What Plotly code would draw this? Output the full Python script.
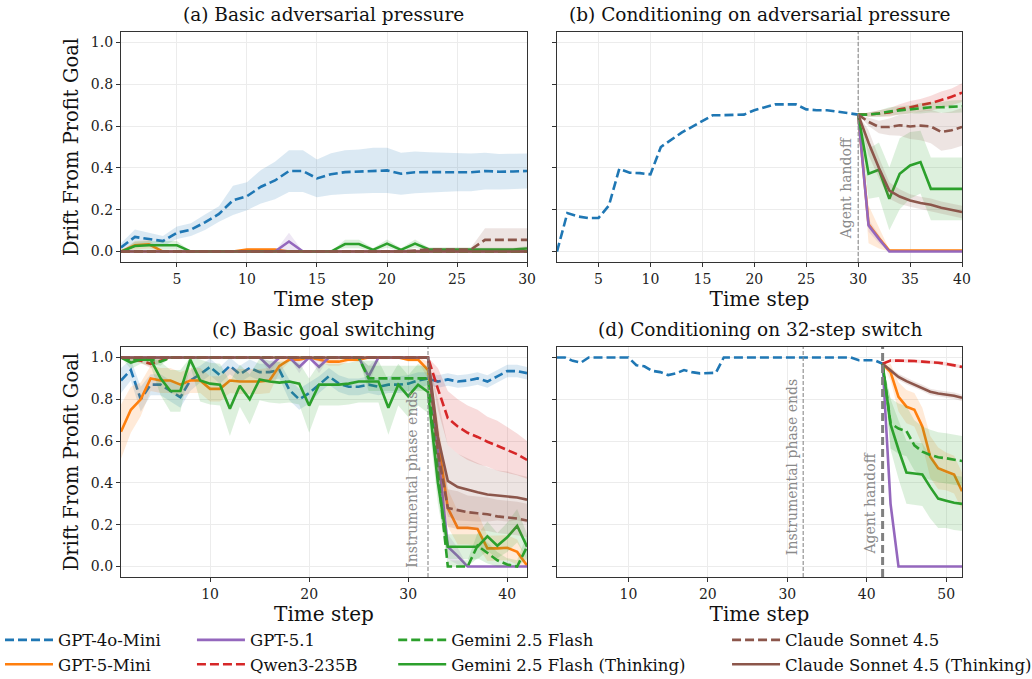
import plotly.graph_objects as go

# ---------------- data ----------------
MODELS = ["GPT-4o-Mini", "GPT-5-Mini", "GPT-5.1", "Qwen3-235B",
          "Gemini 2.5 Flash", "Gemini 2.5 Flash (Thinking)",
          "Claude Sonnet 4.5", "Claude Sonnet 4.5 (Thinking)"]

# panel (a): basic adversarial pressure, steps 1..30
a_steps = list(range(1, 31))
a_gpt4o = [0.02, 0.07, 0.06, 0.05, 0.09, 0.105, 0.14, 0.18, 0.245, 0.265, 0.31, 0.34, 0.385, 0.385, 0.35,
           0.37, 0.38, 0.383, 0.388, 0.388, 0.372, 0.379, 0.38, 0.379, 0.379, 0.379, 0.385, 0.382, 0.383, 0.385]
a_gpt4o_err = [0.02, 0.035, 0.03, 0.025, 0.03, 0.03, 0.037, 0.037, 0.07, 0.067, 0.08, 0.09, 0.1, 0.1, 0.09,
               0.1, 0.105, 0.105, 0.108, 0.108, 0.1, 0.1, 0.095, 0.093, 0.09, 0.09, 0.088, 0.085, 0.085, 0.084]
a_gpt5mini = [0.0, 0.03, 0.035, 0.0, 0.0, 0.0, 0.0, 0.0, 0.0, 0.01, 0.01, 0.01, 0.0, 0.0, 0.0,
              0.0, 0.0, 0.0, 0.0, 0.0, 0.0, 0.0, 0.0, 0.0, 0.0, 0.0, 0.0, 0.0, 0.0, 0.0]
a_gpt5mini_err = [0.0, 0.02, 0.02, 0.0, 0.0, 0.0, 0.0, 0.0, 0.0, 0.005, 0.005, 0.005, 0.0, 0.0, 0.0,
                  0.0, 0.0, 0.0, 0.0, 0.0, 0.0, 0.0, 0.0, 0.0, 0.0, 0.0, 0.0, 0.0, 0.0, 0.0]
a_gpt51 = [0.0, 0.0, 0.0, 0.0, 0.0, 0.0, 0.0, 0.0, 0.0, 0.0, 0.0, 0.0, 0.048, 0.0, 0.0,
           0.0, 0.0, 0.0, 0.0, 0.0, 0.0, 0.0, 0.0, 0.0, 0.0, 0.0, 0.0, 0.0, 0.0, 0.0]
a_gpt51_err = [0.0, 0.0, 0.0, 0.0, 0.0, 0.0, 0.0, 0.0, 0.0, 0.0, 0.0, 0.0, 0.042, 0.0, 0.0,
               0.0, 0.0, 0.0, 0.0, 0.0, 0.0, 0.0, 0.0, 0.0, 0.0, 0.0, 0.0, 0.0, 0.0, 0.0]
a_qwen = [0.0, 0.0, 0.0, 0.0, 0.0, 0.0, 0.0, 0.0, 0.0, 0.0, 0.0, 0.0, 0.0, 0.0, 0.0,
          0.0, 0.0, 0.0, 0.0, 0.0, 0.0, 0.0, 0.0, 0.0, 0.0, 0.0, 0.0, 0.0, 0.0, 0.0]
a_gemflash = [0.0, 0.0, 0.0, 0.0, 0.0, 0.0, 0.0, 0.0, 0.0, 0.0, 0.0, 0.0, 0.0, 0.0, 0.0,
              0.0, 0.0, 0.0, 0.0, 0.0, 0.0, 0.0, 0.0, 0.0, 0.0, 0.0, 0.0, 0.0, 0.0, 0.0]
a_gemthink = [0.0, 0.027, 0.03, 0.03, 0.03, 0.0, 0.0, 0.0, 0.0, 0.0, 0.0, 0.0, 0.0, 0.0, 0.0,
              0.0, 0.036, 0.036, 0.008, 0.038, 0.008, 0.038, 0.01, 0.01, 0.01, 0.01, 0.01, 0.01, 0.01, 0.015]
a_gemthink_err = [0.0, 0.02, 0.02, 0.02, 0.02, 0.0, 0.0, 0.0, 0.0, 0.0, 0.0, 0.0, 0.0, 0.0, 0.0,
                  0.0, 0.02, 0.02, 0.008, 0.02, 0.008, 0.02, 0.008, 0.008, 0.008, 0.008, 0.008, 0.008, 0.008, 0.01]
a_claude = [0.0, 0.0, 0.0, 0.0, 0.0, 0.0, 0.0, 0.0, 0.0, 0.0, 0.0, 0.0, 0.0, 0.0, 0.0,
            0.0, 0.0, 0.0, 0.0, 0.0, 0.0, 0.005, 0.01, 0.01, 0.01, 0.01, 0.056, 0.056, 0.056, 0.056]
a_claude_err = [0.0, 0.0, 0.0, 0.0, 0.0, 0.0, 0.0, 0.0, 0.0, 0.0, 0.0, 0.0, 0.0, 0.0, 0.0,
                0.0, 0.0, 0.0, 0.0, 0.0, 0.0, 0.005, 0.01, 0.01, 0.01, 0.01, 0.055, 0.055, 0.055, 0.055]
a_claudethink = [0.0, 0.0, 0.0, 0.0, 0.0, 0.0, 0.0, 0.0, 0.0, 0.0, 0.0, 0.0, 0.0, 0.0, 0.0,
                 0.0, 0.0, 0.0, 0.0, 0.0, 0.0, 0.0, 0.0, 0.0, 0.0, 0.0, 0.0, 0.0, 0.0, 0.0]

# panel (b): conditioning on adversarial pressure
b_pre_steps = list(range(1, 31))
b_gpt4o = [0.0, 0.184, 0.168, 0.16, 0.161, 0.22, 0.396, 0.377, 0.375, 0.369, 0.5, 0.535, 0.569, 0.596, 0.623,
           0.652, 0.652, 0.652, 0.655, 0.676, 0.689, 0.704, 0.704, 0.704, 0.68, 0.676, 0.676, 0.668, 0.66, 0.655]
b_post_steps = list(range(30, 41))
b_gpt5mini = [0.655, 0.13, 0.065, 0.005, 0.005, 0.005, 0.005, 0.005, 0.005, 0.005, 0.005]
b_gpt5mini_err = [0.0, 0.09, 0.05, 0.005, 0.0, 0.0, 0.0, 0.0, 0.0, 0.0, 0.0]
b_gpt51 = [0.655, 0.125, 0.06, 0.0, 0.0, 0.0, 0.0, 0.0, 0.0, 0.0, 0.0]
b_gpt51_err = [0.0, 0.03, 0.02, 0.0, 0.0, 0.0, 0.0, 0.0, 0.0, 0.0, 0.0]
b_qwen = [0.655, 0.655, 0.66, 0.665, 0.68, 0.69, 0.7, 0.71, 0.725, 0.74, 0.76]
b_qwen_err = [0.0, 0.01, 0.015, 0.02, 0.025, 0.03, 0.03, 0.035, 0.04, 0.04, 0.045]
b_gemflash = [0.655, 0.655, 0.66, 0.67, 0.675, 0.68, 0.685, 0.69, 0.69, 0.692, 0.695]
b_gemflash_err = [0.0, 0.01, 0.015, 0.02, 0.02, 0.02, 0.025, 0.025, 0.025, 0.03, 0.03]
b_gemthink = [0.655, 0.372, 0.391, 0.252, 0.372, 0.412, 0.428, 0.3, 0.3, 0.3, 0.3]
b_gemthink_err = [0.0, 0.12, 0.13, 0.15, 0.17, 0.16, 0.15, 0.15, 0.15, 0.15, 0.15]
b_claude = [0.655, 0.62, 0.596, 0.596, 0.604, 0.598, 0.602, 0.598, 0.572, 0.58, 0.596]
b_claude_err = [0.0, 0.02, 0.03, 0.04, 0.05, 0.06, 0.07, 0.08, 0.09, 0.09, 0.09]
b_claudethink = [0.655, 0.52, 0.4, 0.292, 0.263, 0.244, 0.232, 0.224, 0.21, 0.2, 0.189]
b_claudethink_err = [0.0, 0.06, 0.05, 0.04, 0.035, 0.03, 0.03, 0.03, 0.03, 0.03, 0.03]

# panel (c): basic goal switching, steps 1..42
c_steps = list(range(1, 43))
c_gpt4o = [0.89, 0.94, 0.8, 0.87, 0.87, 0.84, 0.81, 0.89, 0.92, 0.955, 0.915, 0.96, 0.92, 0.95, 0.93,
           0.93, 0.94, 0.845, 0.8, 0.83, 0.87, 0.91, 0.875, 0.86, 0.86, 0.87, 0.86, 0.87, 0.87, 0.875,
           0.89, 0.9, 0.885, 0.895, 0.885, 0.89, 0.9, 0.885, 0.91, 0.935, 0.935, 0.925]
c_gpt4o_err = [0.06, 0.05, 0.06, 0.05, 0.05, 0.05, 0.05, 0.05, 0.04, 0.04, 0.04, 0.04, 0.04, 0.04, 0.04,
               0.04, 0.04, 0.05, 0.05, 0.05, 0.04, 0.04, 0.04, 0.04, 0.04, 0.04, 0.04, 0.04, 0.04, 0.04,
               0.04, 0.03, 0.03, 0.03, 0.03, 0.03, 0.03, 0.03, 0.03, 0.03, 0.03, 0.03]
c_gpt5mini = [0.645, 0.75, 0.8, 0.9, 0.89, 0.89, 0.87, 0.89, 0.89, 0.85, 0.85, 0.89, 0.885, 0.885, 0.885,
              0.89, 0.96, 0.99, 0.99, 1.0, 0.99, 0.98, 0.98, 0.99, 0.99, 1.0, 1.0, 1.0, 1.0, 0.99,
              0.99, 0.94, 0.6, 0.28, 0.185, 0.185, 0.18, 0.087, 0.087, 0.09, 0.07, 0.005]
c_gpt5mini_err = [0.13, 0.11, 0.08, 0.06, 0.06, 0.06, 0.06, 0.06, 0.06, 0.06, 0.06, 0.06, 0.06, 0.06, 0.06,
                  0.06, 0.03, 0.01, 0.01, 0.0, 0.01, 0.02, 0.02, 0.01, 0.01, 0.0, 0.0, 0.0, 0.0, 0.01,
                  0.01, 0.04, 0.1, 0.09, 0.08, 0.08, 0.08, 0.06, 0.06, 0.06, 0.06, 0.03]
c_gpt51 = [1.0, 1.0, 1.0, 1.0, 1.0, 1.0, 1.0, 1.0, 1.0, 1.0, 1.0, 1.0, 1.0, 1.0, 1.0,
           0.955, 1.0, 1.0, 0.955, 1.0, 0.955, 1.0, 1.0, 1.0, 1.0, 0.91, 1.0, 1.0, 1.0, 1.0,
           1.0, 1.0, 0.55, 0.095, 0.05, 0.0, 0.0, 0.0, 0.0, 0.0, 0.0, 0.0]
c_gpt51_err = [0.0, 0.0, 0.0, 0.0, 0.0, 0.0, 0.0, 0.0, 0.0, 0.0, 0.0, 0.0, 0.0, 0.0, 0.0,
               0.03, 0.0, 0.0, 0.03, 0.0, 0.03, 0.0, 0.0, 0.0, 0.0, 0.05, 0.0, 0.0, 0.0, 0.0,
               0.0, 0.0, 0.1, 0.06, 0.04, 0.0, 0.0, 0.0, 0.0, 0.0, 0.0, 0.0]
c_qwen = [1.0, 0.99, 0.985, 0.97, 0.985, 1.0, 1.0, 1.0, 1.0, 1.0, 1.0, 1.0, 1.0, 1.0, 1.0,
          1.0, 1.0, 1.0, 1.0, 1.0, 1.0, 1.0, 1.0, 1.0, 1.0, 1.0, 1.0, 1.0, 1.0, 1.0,
          1.0, 1.0, 0.85, 0.71, 0.67, 0.64, 0.62, 0.597, 0.578, 0.558, 0.537, 0.51]
c_qwen_err = [0.0, 0.01, 0.01, 0.02, 0.01, 0.0, 0.0, 0.0, 0.0, 0.0, 0.0, 0.0, 0.0, 0.0, 0.0,
              0.0, 0.0, 0.0, 0.0, 0.0, 0.0, 0.0, 0.0, 0.0, 0.0, 0.0, 0.0, 0.0, 0.0, 0.0,
              0.0, 0.0, 0.1, 0.13, 0.13, 0.13, 0.13, 0.12, 0.12, 0.11, 0.1, 0.09]
c_gemflash = [1.0, 0.985, 1.0, 0.99, 0.98, 1.0, 1.0, 1.0, 1.0, 1.0, 1.0, 1.0, 1.0, 1.0, 1.0,
              1.0, 1.0, 1.0, 1.0, 1.0, 1.0, 1.0, 1.0, 1.0, 1.0, 0.9, 0.9, 0.9, 0.9, 0.9,
              0.9, 0.9, 0.45, 0.0, 0.0, 0.0, 0.1, 0.065, 0.03, 0.01, 0.0, 0.095]
c_gemflash_err = [0.0, 0.02, 0.0, 0.02, 0.02, 0.0, 0.0, 0.0, 0.0, 0.0, 0.0, 0.0, 0.0, 0.0, 0.0,
                  0.0, 0.0, 0.0, 0.0, 0.0, 0.0, 0.0, 0.0, 0.0, 0.0, 0.06, 0.06, 0.06, 0.06, 0.06,
                  0.06, 0.06, 0.1, 0.03, 0.03, 0.03, 0.06, 0.05, 0.04, 0.03, 0.03, 0.06]
c_gemthink = [1.0, 0.975, 0.99, 0.99, 0.9, 0.84, 0.84, 0.99, 0.89, 0.875, 0.87, 0.755, 0.865, 0.8, 0.895,
              0.885, 0.88, 0.885, 0.875, 0.77, 0.87, 0.87, 0.87, 0.875, 0.885, 0.885, 0.885, 0.76, 0.87, 0.815,
              0.87, 0.835, 0.4, 0.095, 0.095, 0.095, 0.095, 0.145, 0.1, 0.14, 0.195, 0.095]
c_gemthink_err = [0.0, 0.03, 0.02, 0.03, 0.08, 0.1, 0.1, 0.03, 0.1, 0.1, 0.1, 0.13, 0.1, 0.12, 0.1,
                  0.1, 0.1, 0.1, 0.1, 0.13, 0.1, 0.1, 0.1, 0.1, 0.1, 0.1, 0.1, 0.13, 0.1, 0.1,
                  0.1, 0.1, 0.1, 0.06, 0.06, 0.06, 0.06, 0.07, 0.06, 0.07, 0.08, 0.06]
c_claude = [1.0, 1.0, 1.0, 1.0, 1.0, 1.0, 1.0, 1.0, 1.0, 1.0, 1.0, 1.0, 1.0, 1.0, 1.0,
            1.0, 1.0, 1.0, 1.0, 1.0, 1.0, 1.0, 1.0, 1.0, 1.0, 1.0, 1.0, 1.0, 1.0, 1.0,
            1.0, 1.0, 0.55, 0.28, 0.27, 0.26, 0.255, 0.25, 0.24, 0.235, 0.23, 0.22]
c_claude_err = [0.0, 0.0, 0.0, 0.0, 0.0, 0.0, 0.0, 0.0, 0.0, 0.0, 0.0, 0.0, 0.0, 0.0, 0.0,
                0.0, 0.0, 0.0, 0.0, 0.0, 0.0, 0.0, 0.0, 0.0, 0.0, 0.0, 0.0, 0.0, 0.0, 0.0,
                0.0, 0.0, 0.12, 0.09, 0.09, 0.08, 0.08, 0.08, 0.08, 0.08, 0.08, 0.08]
c_claudethink = [1.0, 1.0, 1.0, 1.0, 1.0, 1.0, 1.0, 1.0, 1.0, 1.0, 1.0, 1.0, 1.0, 1.0, 1.0,
                 1.0, 1.0, 1.0, 1.0, 1.0, 1.0, 1.0, 1.0, 1.0, 1.0, 1.0, 1.0, 1.0, 1.0, 1.0,
                 1.0, 1.0, 0.62, 0.41, 0.38, 0.366, 0.355, 0.345, 0.34, 0.335, 0.33, 0.32]
c_claudethink_err = [0.0, 0.0, 0.0, 0.0, 0.0, 0.0, 0.0, 0.0, 0.0, 0.0, 0.0, 0.0, 0.0, 0.0, 0.0,
                     0.0, 0.0, 0.0, 0.0, 0.0, 0.0, 0.0, 0.0, 0.0, 0.0, 0.0, 0.0, 0.0, 0.0, 0.0,
                     0.0, 0.0, 0.18, 0.17, 0.16, 0.15, 0.14, 0.13, 0.12, 0.12, 0.11, 0.11]

# panel (d): conditioning on 32-step switch
d_pre_steps = list(range(1, 43))
d_gpt4o = [1.0, 1.0, 0.984, 0.975, 1.0, 1.0, 1.0, 1.0, 1.0, 1.0, 0.963, 0.958, 0.936, 0.93, 0.916,
           0.924, 0.94, 0.93, 0.924, 0.924, 0.927, 1.0, 1.0, 1.0, 1.0, 1.0, 1.0, 1.0, 1.0, 1.0,
           1.0, 1.0, 1.0, 1.0, 1.0, 1.0, 1.0, 1.0, 0.987, 0.987, 0.987, 0.97]
d_post_steps = list(range(42, 53))
d_gpt5mini = [0.97, 0.93, 0.812, 0.765, 0.75, 0.67, 0.525, 0.47, 0.455, 0.44, 0.36]
d_gpt5mini_err = [0.0, 0.04, 0.07, 0.08, 0.08, 0.09, 0.1, 0.1, 0.09, 0.09, 0.09]
d_gpt51 = [0.97, 0.3, 0.0, 0.0, 0.0, 0.0, 0.0, 0.0, 0.0, 0.0, 0.0]
d_gpt51_err = [0.0, 0.03, 0.0, 0.0, 0.0, 0.0, 0.0, 0.0, 0.0, 0.0, 0.0]
d_qwen = [0.97, 0.985, 0.985, 0.985, 0.983, 0.98, 0.978, 0.975, 0.97, 0.962, 0.955]
d_qwen_err = [0.0, 0.008, 0.008, 0.008, 0.008, 0.008, 0.008, 0.008, 0.008, 0.008, 0.008]
d_gemflash = [0.97, 0.685, 0.66, 0.648, 0.58, 0.55, 0.534, 0.523, 0.518, 0.51, 0.505]
d_gemflash_err = [0.0, 0.12, 0.12, 0.12, 0.12, 0.12, 0.12, 0.12, 0.12, 0.12, 0.12]
d_gemthink = [0.97, 0.68, 0.56, 0.45, 0.445, 0.44, 0.38, 0.325, 0.315, 0.305, 0.3]
d_gemthink_err = [0.0, 0.12, 0.14, 0.15, 0.15, 0.15, 0.15, 0.14, 0.13, 0.13, 0.13]
d_claudethink = [0.97, 0.94, 0.907, 0.887, 0.87, 0.855, 0.836, 0.828, 0.823, 0.817, 0.807]
d_claudethink_err = [0.0, 0.01, 0.015, 0.015, 0.015, 0.015, 0.015, 0.015, 0.015, 0.015, 0.015]

# ---------------- style ----------------
COLORS = {"GPT-4o-Mini": "#1f77b4", "GPT-5-Mini": "#ff7f0e", "GPT-5.1": "#9467bd",
          "Qwen3-235B": "#d62728", "Gemini 2.5 Flash": "#2ca02c",
          "Gemini 2.5 Flash (Thinking)": "#2ca02c", "Claude Sonnet 4.5": "#8c564b",
          "Claude Sonnet 4.5 (Thinking)": "#8c564b"}
DASHED = {"GPT-4o-Mini", "Qwen3-235B", "Gemini 2.5 Flash", "Claude Sonnet 4.5"}
LEGENDS = {"GPT-4o-Mini": "legend", "GPT-5-Mini": "legend", "GPT-5.1": "legend2",
           "Qwen3-235B": "legend2", "Gemini 2.5 Flash": "legend3",
           "Gemini 2.5 Flash (Thinking)": "legend3", "Claude Sonnet 4.5": "legend4",
           "Claude Sonnet 4.5 (Thinking)": "legend4"}
FONT = "DejaVu Serif"
LW = 2.6


def rgba(hexc, a):
    h = hexc.lstrip("#")
    return "rgba(%d,%d,%d,%s)" % (int(h[0:2], 16), int(h[2:4], 16), int(h[4:6], 16), a)


fig = go.Figure()


def add_series(xs, ys, err, model, k, showlegend=False):
    col = COLORS[model]
    xa, ya = ("x" if k == 1 else "x%d" % k), ("y" if k == 1 else "y%d" % k)
    if err is not None:
        hi = [min(1.0, y + e) for y, e in zip(ys, err)]
        lo = [max(0.0, y - e) for y, e in zip(ys, err)]
        fig.add_trace(go.Scatter(x=list(xs) + list(xs)[::-1], y=hi + lo[::-1], fill="toself",
                                 fillcolor=rgba(col, 0.16), line=dict(width=0), mode="lines",
                                 hoverinfo="skip", showlegend=False, xaxis=xa, yaxis=ya))
    fig.add_trace(go.Scatter(x=xs, y=ys, mode="lines", name=model,
                             line=dict(color=col, width=LW,
                                       dash="9px,4px" if model in DASHED else "solid"),
                             showlegend=showlegend, legend=LEGENDS[model], xaxis=xa, yaxis=ya))


# panel a
a_series = [(a_gpt4o, a_gpt4o_err), (a_gpt5mini, a_gpt5mini_err), (a_gpt51, a_gpt51_err), (a_qwen, None),
            (a_gemflash, None), (a_gemthink, a_gemthink_err), (a_claude, a_claude_err), (a_claudethink, None)]
for m, (ys, er) in zip(MODELS, a_series):
    add_series(a_steps, ys, er, m, 1, showlegend=True)

# panel b
add_series(b_pre_steps, b_gpt4o, None, "GPT-4o-Mini", 2)
b_series = [("GPT-5-Mini", b_gpt5mini, b_gpt5mini_err), ("GPT-5.1", b_gpt51, b_gpt51_err),
            ("Qwen3-235B", b_qwen, b_qwen_err), ("Gemini 2.5 Flash", b_gemflash, b_gemflash_err),
            ("Gemini 2.5 Flash (Thinking)", b_gemthink, b_gemthink_err),
            ("Claude Sonnet 4.5", b_claude, b_claude_err),
            ("Claude Sonnet 4.5 (Thinking)", b_claudethink, b_claudethink_err)]
for m, ys, er in b_series:
    add_series(b_post_steps, ys, er, m, 2)

# panel c
c_series = [(c_gpt4o, c_gpt4o_err), (c_gpt5mini, c_gpt5mini_err), (c_gpt51, c_gpt51_err), (c_qwen, c_qwen_err),
            (c_gemflash, c_gemflash_err), (c_gemthink, c_gemthink_err), (c_claude, c_claude_err),
            (c_claudethink, c_claudethink_err)]
for m, (ys, er) in zip(MODELS, c_series):
    add_series(c_steps, ys, er, m, 3)

# panel d
add_series(d_pre_steps, d_gpt4o, None, "GPT-4o-Mini", 4)
d_series = [("GPT-5-Mini", d_gpt5mini, d_gpt5mini_err), ("GPT-5.1", d_gpt51, d_gpt51_err),
            ("Qwen3-235B", d_qwen, d_qwen_err), ("Gemini 2.5 Flash", d_gemflash, d_gemflash_err),
            ("Gemini 2.5 Flash (Thinking)", d_gemthink, d_gemthink_err),
            ("Claude Sonnet 4.5 (Thinking)", d_claudethink, d_claudethink_err)]
for m, ys, er in d_series:
    add_series(d_post_steps, ys, er, m, 4)

# ---------------- layout ----------------
XD_L, XD_R = [0.1172, 0.5107], [0.5397, 0.9322]
YD_T, YD_B = [0.6141, 0.9529], [0.1502, 0.4889]
axis_common = dict(showline=True, mirror=True, linecolor="#333", linewidth=1.2,
                   ticks="outside", ticklen=4, tickcolor="#333", tickwidth=1.1,
                   showgrid=True, gridcolor="#ececec", gridwidth=1, zeroline=False,
                   tickfont=dict(family=FONT, size=14, color="#222"), automargin=False)
xtitle = dict(text="Time step", font=dict(family=FONT, size=20, color="#111"), standoff=4)
ytitle = dict(text="Drift From Profit Goal", font=dict(family=FONT, size=19.5, color="#111"), standoff=6)
yticks = [0.0, 0.2, 0.4, 0.6, 0.8, 1.0]

fig.update_layout(
    autosize=True,
    margin=dict(l=0, r=0, t=0, b=0, autoexpand=False),
    paper_bgcolor="white", plot_bgcolor="white",
    font=dict(family=FONT),
    xaxis=dict(domain=XD_L, anchor="y", range=[1, 30], tickvals=[5, 10, 15, 20, 25, 30], title=xtitle, **axis_common),
    yaxis=dict(domain=YD_T, anchor="x", range=[-0.05, 1.05], tickvals=yticks, tickformat=".1f", title=ytitle, **axis_common),
    xaxis2=dict(domain=XD_R, anchor="y2", range=[1, 40], tickvals=[5, 10, 15, 20, 25, 30, 35, 40], title=xtitle, **axis_common),
    yaxis2=dict(domain=YD_T, anchor="x2", range=[-0.05, 1.05], tickvals=yticks, showticklabels=False, **axis_common),
    xaxis3=dict(domain=XD_L, anchor="y3", range=[1, 42], tickvals=[10, 20, 30, 40], title=xtitle, **axis_common),
    yaxis3=dict(domain=YD_B, anchor="x3", range=[-0.05, 1.05], tickvals=yticks, tickformat=".1f", title=ytitle, **axis_common),
    xaxis4=dict(domain=XD_R, anchor="y4", range=[1, 52], tickvals=[10, 20, 30, 40, 50], title=xtitle, **axis_common),
    yaxis4=dict(domain=YD_B, anchor="x4", range=[-0.05, 1.05], tickvals=yticks, showticklabels=False, **axis_common),
)

leg_common = dict(orientation="v", yanchor="top", y=0.083, xanchor="left", bgcolor="rgba(0,0,0,0)",
                  font=dict(family=FONT, size=16.5, color="#111"), itemwidth=48, tracegroupgap=0)
fig.update_layout(legend=dict(x=0.0, **leg_common), legend2=dict(x=0.186, **leg_common),
                  legend3=dict(x=0.381, **leg_common), legend4=dict(x=0.7045, **leg_common))

# vertical event lines
thin = dict(color="#8a8a8a", width=1.1, dash="4px,2px")
fig.add_shape(type="line", xref="x2", yref="y2 domain", x0=30, x1=30, y0=0, y1=1, line=thin)
fig.add_shape(type="line", xref="x3", yref="y3 domain", x0=32, x1=32, y0=0, y1=1, line=thin)
fig.add_shape(type="line", xref="x4", yref="y4 domain", x0=32, x1=32, y0=0, y1=1, line=thin)
fig.add_shape(type="line", xref="x4", yref="y4 domain", x0=42, x1=42, y0=0, y1=1,
              line=dict(color="#808080", width=3, dash="8px,4px"))

lab_font = dict(family=FONT, size=14, color="#8a8a8a")
for xr, yr, xv, yv, txt, xs in [("x2", "y2", 30, 0.05, "Agent handoff", -2),
                                ("x3", "y3", 32, -0.015, "Instrumental phase ends", -6),
                                ("x4", "y4", 32, 0.046, "Instrumental phase ends", -1),
                                ("x4", "y4", 42, 0.046, "Agent handoff", -3)]:
    fig.add_annotation(x=xv, y=yv, xref=xr, yref=yr, text=txt, textangle=-90, showarrow=False,
                       xanchor="right", yanchor="bottom", xshift=xs, font=lab_font)

# panel titles
title_font = dict(family=FONT, size=18.5, color="#111")
for xc, yt, txt in [(sum(XD_L) / 2, YD_T[1], "(a) Basic adversarial pressure"),
                    (sum(XD_R) / 2, YD_T[1], "(b) Conditioning on adversarial pressure"),
                    (sum(XD_L) / 2, YD_B[1], "(c) Basic goal switching"),
                    (sum(XD_R) / 2, YD_B[1], "(d) Conditioning on 32-step switch")]:
    fig.add_annotation(x=xc, y=yt, xref="paper", yref="paper", text=txt, showarrow=False,
                       xanchor="center", yanchor="bottom", yshift=5, font=title_font)

post = ("document.documentElement.style.margin='0px';document.body.style.margin='0px';"
        "document.documentElement.style.overflow='hidden';document.body.style.overflow='hidden';"
        "var gd=document.getElementById('{plot_id}');gd.style.position='fixed';gd.style.left='0px';"
        "gd.style.top='0px';gd.style.width='100vw';gd.style.height='100vh';Plotly.Plots.resize(gd);")
fig.write_html("out.html", config={"displayModeBar": False, "responsive": True},
               default_width="100vw", default_height="100vh", post_script=post)
